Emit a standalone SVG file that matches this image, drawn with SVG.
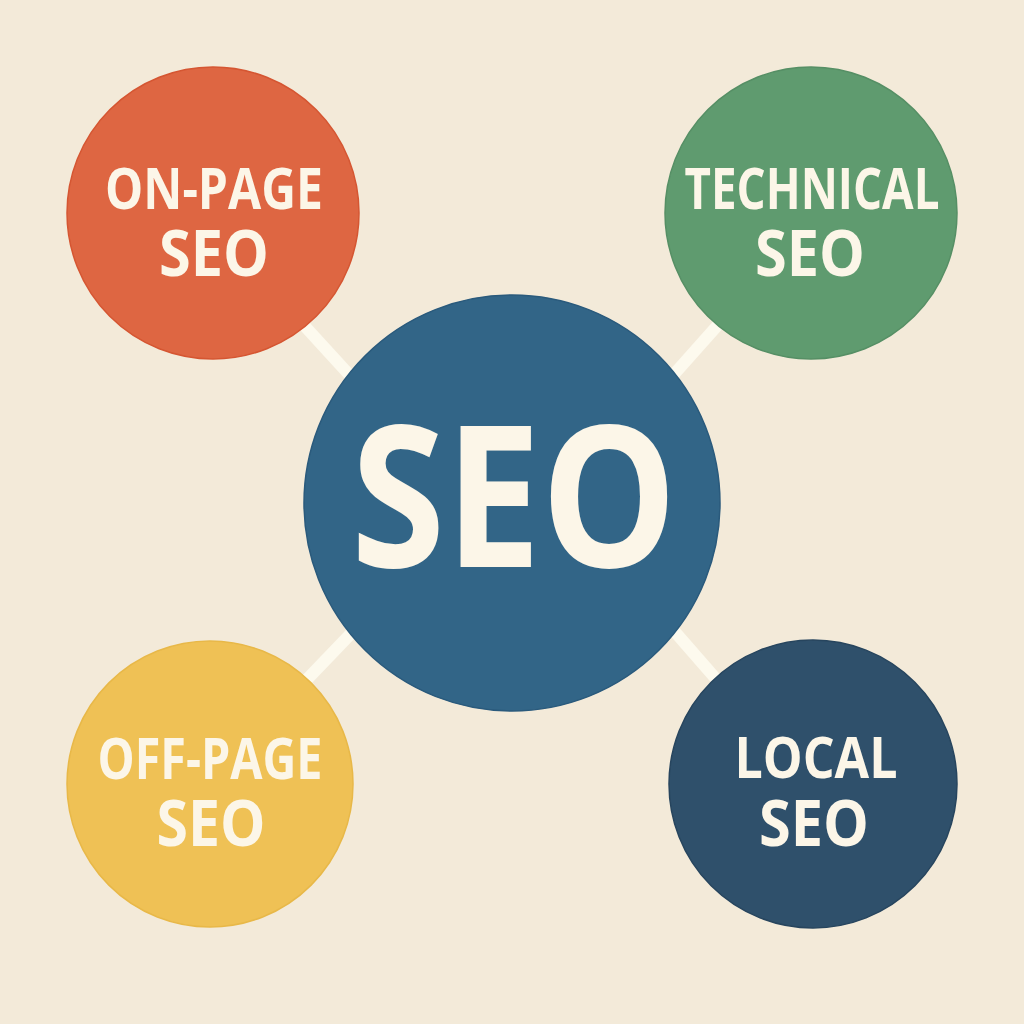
<svg xmlns="http://www.w3.org/2000/svg" width="1024" height="1024" viewBox="0 0 1024 1024">
<style>
.lbl{font-family:"Open Sans","Noto Sans","Liberation Sans",sans-serif;font-weight:700;fill:#FCF6E8;text-anchor:middle}
.conn{stroke:#FDFAEE;stroke-width:12;stroke-linecap:butt}
</style>
<rect width="1024" height="1024" fill="#F3EAD9"/>
<g id="connectors">
<line class="conn" x1="290" y1="310" x2="365" y2="392"/>
<line class="conn" x1="733" y1="308" x2="660" y2="390"/>
<line class="conn" x1="364" y1="620" x2="292" y2="695"/>
<line class="conn" x1="662" y1="617" x2="730" y2="695"/>
</g>
<g id="onpage">
<circle cx="213" cy="213" r="146" fill="#DE6642" stroke="#D55632" stroke-width="1.5"/>
<text class="lbl" x="214" y="209" font-size="58" textLength="218" lengthAdjust="spacingAndGlyphs">ON-PAGE</text>
<text class="lbl" x="214" y="276" font-size="64" textLength="110" lengthAdjust="spacingAndGlyphs">SEO</text>
</g>
<g id="technical">
<circle cx="811" cy="213" r="146" fill="#5F9B6F" stroke="#568F65" stroke-width="1.5"/>
<text class="lbl" x="812" y="209" font-size="58" textLength="255" lengthAdjust="spacingAndGlyphs">TECHNICAL</text>
<text class="lbl" x="810" y="276" font-size="64" textLength="110" lengthAdjust="spacingAndGlyphs">SEO</text>
</g>
<g id="offpage">
<circle cx="210" cy="784" r="143" fill="#EFC155" stroke="#E8B848" stroke-width="1.5"/>
<text class="lbl" x="210" y="779" font-size="58" textLength="225" lengthAdjust="spacingAndGlyphs">OFF-PAGE</text>
<text class="lbl" x="211" y="846" font-size="64" textLength="109" lengthAdjust="spacingAndGlyphs">SEO</text>
</g>
<g id="local">
<circle cx="813" cy="784" r="144" fill="#2F506B" stroke="#27455E" stroke-width="1.5"/>
<text class="lbl" x="816" y="778" font-size="58" textLength="163" lengthAdjust="spacingAndGlyphs">LOCAL</text>
<text class="lbl" x="814" y="846" font-size="64" textLength="110" lengthAdjust="spacingAndGlyphs">SEO</text>
</g>
<g id="seo">
<circle cx="512" cy="503" r="208" fill="#326587" stroke="#2A5A7C" stroke-width="1.5"/>
<text class="lbl" x="514" y="567" font-size="198" textLength="326" lengthAdjust="spacingAndGlyphs">SEO</text>
</g>
</svg>
